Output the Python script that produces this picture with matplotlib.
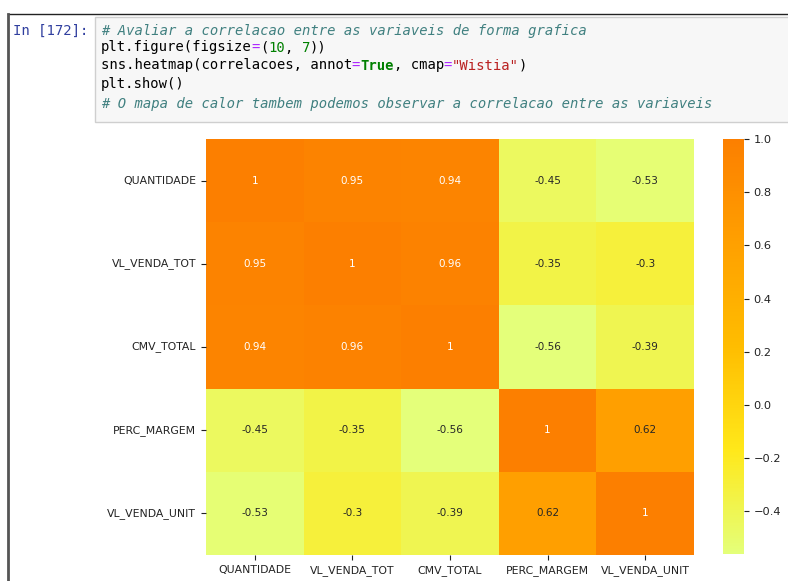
import matplotlib
matplotlib.use("Agg")
import matplotlib.pyplot as plt
import numpy as np
import pandas as pd
import seaborn as sns
from matplotlib.patches import Rectangle
from matplotlib.lines import Line2D

# correlation matrix between the sales variables
variaveis = ["QUANTIDADE", "VL_VENDA_TOT", "CMV_TOTAL", "PERC_MARGEM", "VL_VENDA_UNIT"]
quantidade = [1.00, 0.95, 0.94, -0.45, -0.53]
vl_venda_tot = [0.95, 1.00, 0.96, -0.35, -0.30]
cmv_total = [0.94, 0.96, 1.00, -0.56, -0.39]
perc_margem = [-0.45, -0.35, -0.56, 1.00, 0.62]
vl_venda_unit = [-0.53, -0.30, -0.39, 0.62, 1.00]

correlacoes = pd.DataFrame([quantidade, vl_venda_tot, cmv_total, perc_margem, vl_venda_unit],
                           index=variaveis, columns=variaveis)

# notebook cell source, split in coloured tokens
COMMENT = dict(color="#408080", style="italic")
PLAIN = dict(color="#000000")
OP = dict(color="#AA22FF")
NUM = dict(color="#008000")
KW = dict(color="#008000", weight="bold")
STR = dict(color="#BA2121")

code_lines = [
    [("# Avaliar a correlacao entre as variaveis de forma grafica", COMMENT)],
    [("plt.figure(figsize", PLAIN), ("=", OP), ("(", PLAIN), ("10", NUM), (", ", PLAIN),
     ("7", NUM), ("))", PLAIN)],
    [("sns.heatmap(correlacoes, annot", PLAIN), ("=", OP), ("True", KW), (", cmap", PLAIN),
     ("=", OP), ('"Wistia"', STR), (")", PLAIN)],
    [("plt.show()", PLAIN)],
    [("# O mapa de calor tambem podemos observar a correlacao entre as variaveis", COMMENT)],
]
prompt = "In [172]:"

W, H = 788, 581
fig = plt.figure(figsize=(W / 100, H / 100), dpi=100)


def fx(x):
    return x / W


def fy(y):
    return 1 - y / H


# cell frame
fig.add_artist(Line2D([fx(8), 1], [fy(14), fy(14)], color="#222222", lw=1.0))
fig.add_artist(Line2D([fx(8), fx(8)], [fy(14), 0], color="#555555", lw=2.0))
fig.add_artist(Rectangle((fx(95), fy(122)), 1 - fx(95) + 0.01, (122 - 17) / H,
                         facecolor="#f7f7f7", edgecolor="#cfcfcf", lw=1.0))

mono = "DejaVu Sans Mono"
fsize = 10.0
char_w = fsize * 100 / 72 * 0.602  # monospace advance in pixels
fig.text(fx(13), fy(31), prompt, family=mono, size=fsize, color="#303F9F", va="center")

line_y = [31, 47.5, 65.5, 84, 104]
for y, tokens in zip(line_y, code_lines):
    col = 0
    for txt, style in tokens:
        fig.text(fx(101 + col * char_w), fy(y), txt, family=mono, size=fsize,
                 va="center", **style)
        col += len(txt)

# heatmap and colorbar
ax = fig.add_axes([fx(206), fy(555), (694 - 206) / W, (555 - 139) / H])
cax = fig.add_axes([fx(723), fy(554), (744 - 723) / W, (554 - 139) / H])
sns.heatmap(correlacoes, annot=True, cmap="Wistia", ax=ax, cbar_ax=cax,
            annot_kws={"size": 7.5})
ax.tick_params(labelsize=7.8, length=3.5, width=0.8, colors="#222222")
ax.tick_params(axis="y", rotation=0)
ax.tick_params(axis="x", rotation=0)
cax.tick_params(labelsize=8.2, length=3.5, width=0.8, colors="#222222")
cax.set_yticks([-0.4, -0.2, 0.0, 0.2, 0.4, 0.6, 0.8, 1.0])
for sp in cax.spines.values():
    sp.set_visible(False)

fig.savefig("out.png", dpi=100)
